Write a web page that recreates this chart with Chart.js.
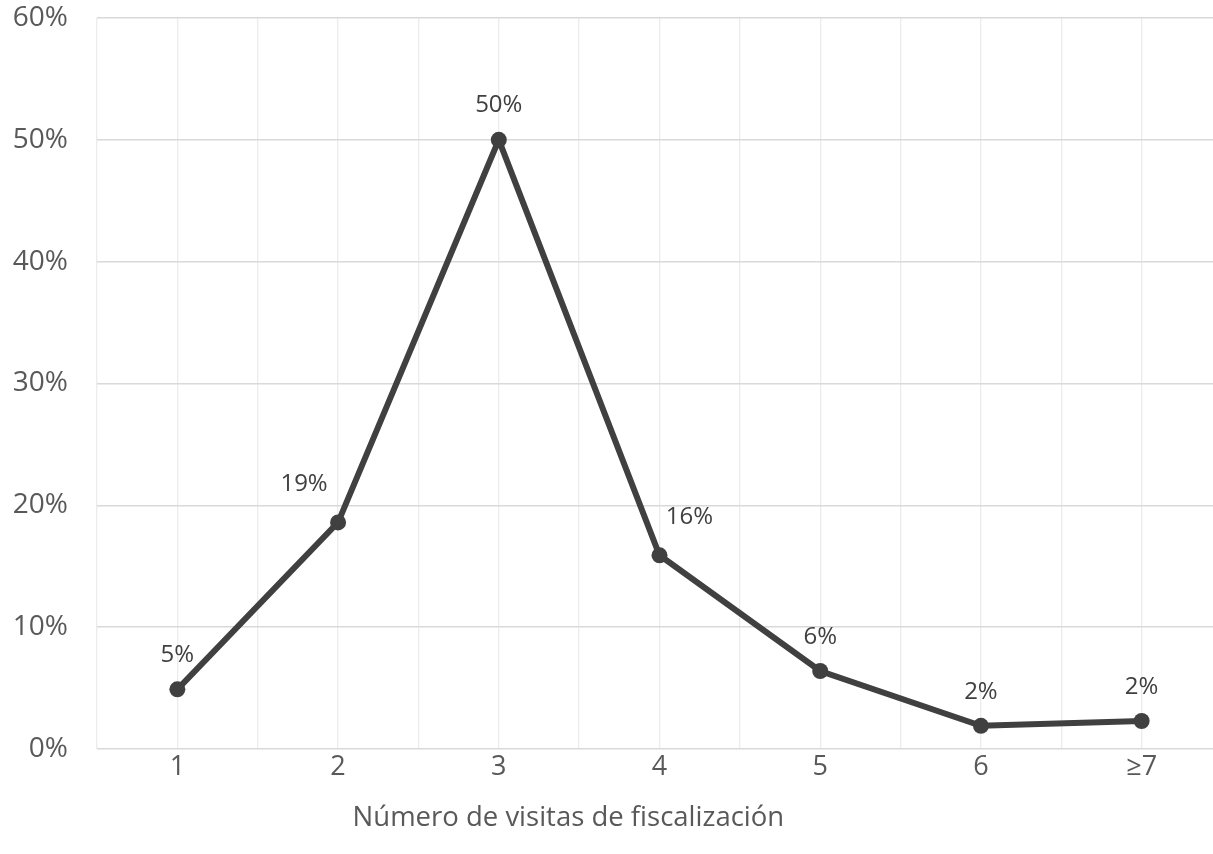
<!DOCTYPE html>
<html>
<head>
<meta charset="utf-8">
<script src="https://cdn.jsdelivr.net/npm/chart.js@4.4.0/dist/chart.umd.min.js"></script>
<style>
  html, body { margin: 0; padding: 0; background: #fff; overflow: hidden; }
  #wrap { width: 1230px; height: 854px; }
</style>
</head>
<body>
<div id="wrap"><canvas id="visitas-chart"></canvas></div>
<script>
// categories and values (share of establishments, %)
var categories = ["1", "2", "3", "4", "5", "6", "\u22657"];
var shares = [4.9, 18.6, 50.0, 15.9, 6.4, 1.9, 2.3];
var shareLabels = ["5%", "19%", "50%", "16%", "6%", "2%", "2%"];
var yTicks = [0, 10, 20, 30, 40, 50, 60];
var xTitle = "Número de visitas de fiscalización";

// label nudges relative to each point (px)
var labelNudge = [[0, -34], [-34, -38], [0, -35], [30, -38], [0, -34], [0, -34], [0, -34]];

var ink = "#404040";
var tickColor = "#595959";
var fontFamily = "'Open Sans', sans-serif";

// draws the value labels next to the points
var pointLabels = {
  id: "pointLabels",
  afterDatasetsDraw: function(chart) {
    var ctx = chart.ctx;
    var meta = chart.getDatasetMeta(0);
    ctx.save();
    ctx.font = "24px " + fontFamily;
    ctx.fillStyle = ink;
    ctx.textAlign = "center";
    ctx.textBaseline = "middle";
    meta.data.forEach(function(pt, i) {
      ctx.fillText(shareLabels[i], pt.x + labelNudge[i][0], pt.y + labelNudge[i][1]);
    });
    ctx.restore();
  }
};

// axis title, sits a bit left of centre like the original
var axisTitle = {
  id: "axisTitle",
  afterDraw: function(chart) {
    var ctx = chart.ctx;
    var area = chart.chartArea;
    ctx.save();
    ctx.font = "27.5px " + fontFamily;
    ctx.fillStyle = tickColor;
    ctx.textAlign = "center";
    ctx.textBaseline = "middle";
    ctx.fillText(xTitle, area.left + (area.right - area.left) * 0.419, area.bottom + 69);
    ctx.restore();
  }
};

new Chart("visitas-chart", {
  type: "line",
  data: {
    labels: categories,
    datasets: [{
      data: shares,
      borderColor: ink,
      borderWidth: 6,
      backgroundColor: ink,
      pointBackgroundColor: ink,
      pointBorderWidth: 0,
      pointRadius: 8,
      tension: 0,
      xAxisID: "x"
    }]
  },
  options: {
    responsive: true,
    maintainAspectRatio: false,
    animation: false,
    layout: { padding: { top: 18, right: 8, left: 0, bottom: 0 } },
    scales: {
      x: {
        type: "category",
        offset: true,
        grid: { offset: false, color: "#ececec", lineWidth: 1.3, drawTicks: false },
        border: { display: false },
        ticks: { color: tickColor, font: { family: fontFamily, size: 27 }, padding: 2 },
        afterFit: function(scale) {
          scale.height = 105;
          scale.paddingLeft = 0;
          scale.paddingRight = 0;
        }
      },
      x2: {
        type: "category",
        position: "top",
        offset: true,
        grid: { offset: true, color: "#ececec", lineWidth: 1.3, drawTicks: false },
        border: { display: false },
        ticks: { display: false },
        afterFit: function(scale) {
          scale.height = 0;
          scale.paddingTop = 0;
          scale.paddingBottom = 0;
        }
      },
      y: {
        min: 0,
        max: 60,
        afterBuildTicks: function(scale) {
          scale.ticks = yTicks.map(function(v) { return { value: v }; });
        },
        grid: { color: "#d9d9d9", lineWidth: 1.5, drawTicks: false },
        border: { display: false },
        ticks: {
          color: tickColor,
          font: { family: fontFamily, size: 28 },
          padding: 29,
          callback: function(value) { return value + "%"; }
        },
        afterFit: function(scale) {
          scale.width = 97;
          scale.paddingTop = 0;
          scale.paddingBottom = 0;
        }
      }
    },
    plugins: {
      legend: { display: false },
      tooltip: { enabled: false }
    }
  },
  plugins: [pointLabels, axisTitle]
});
</script>
</body>
</html>
